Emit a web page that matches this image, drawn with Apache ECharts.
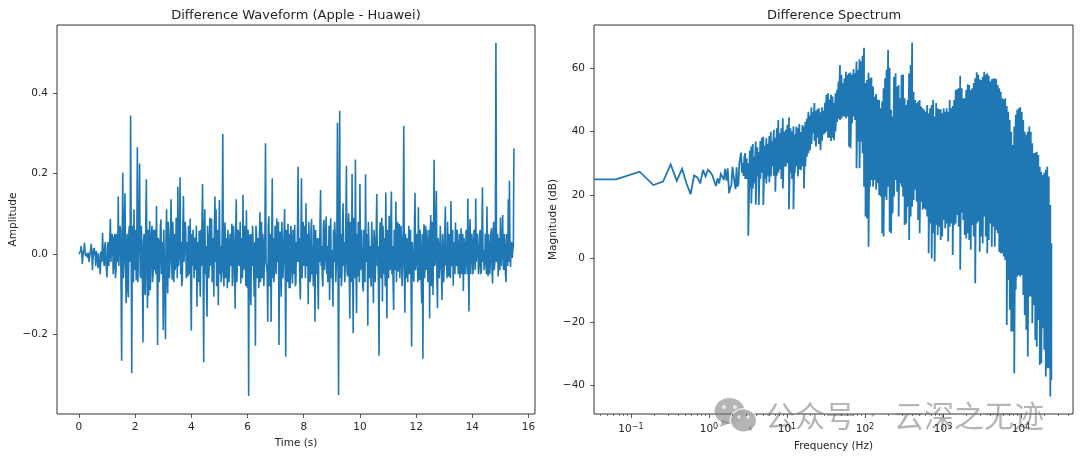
<!DOCTYPE html>
<html><head><meta charset="utf-8">
<style>html,body{margin:0;padding:0;background:#fff}#c{width:1080px;height:459px}</style>
<script src="https://cdn.jsdelivr.net/npm/echarts@6/dist/echarts.min.js"></script>
</head><body><div id="c"></div>
<script>
// Waveform samples, one every 0.04 s
const waveStep = 0.04;
const waveValues = [
0,0,.02,-.025,.005,.028,-.005,0,-.01,-.02,
.002,.025,-.04,.01,.012,-.03,.01,-.035,-.02,-.05,
.01,.053,-.01,.02,-.02,-.058,.03,-.01,.087,-.02,
.04,-.03,.05,-.04,.03,.143,.02,.06,-.265,.202,
-.02,.151,-.122,.05,-.108,.07,.344,-.296,.03,.111,
0,-.066,.265,.02,.225,-.06,.02,-.22,.05,-.102,
.186,-.135,-.104,.082,-.02,.07,-.05,.03,.06,.119,
-.226,.03,-.02,.086,-.03,-.189,.06,-.212,.111,-.098,
.04,-.02,.136,-.064,.02,.05,-.03,.08,.167,-.01,
.191,.03,-.063,.144,-.02,.06,-.01,-.056,.03,.088,
-.19,-.03,.01,.041,-.04,-.131,.02,.058,-.106,-.03,
.174,-.269,.111,.02,-.156,.03,-.02,.064,.088,-.04,
-.106,.143,.111,-.02,-.127,.134,.02,-.05,.298,-.081,
.079,-.02,-.085,.03,-.03,.02,.075,-.066,.03,-.136,
.136,-.02,.05,-.03,-.073,.04,.147,-.03,.04,.109,
-.085,-.353,.049,-.127,-.03,.02,-.106,-.228,.05,-.04,
-.085,.104,-.02,-.06,.03,-.02,.275,-.03,-.168,.094,
-.03,-.168,.188,.04,-.032,.03,.089,-.02,-.226,.056,
-.106,.03,-.02,.112,-.255,.02,.075,-.085,-.085,.041,
-.073,.03,.072,-.073,-.02,.217,.04,-.113,.188,.02,
-.03,.05,.126,-.02,-.125,.03,-.06,.087,.02,.072,
-.168,.01,.039,-.137,-.02,.159,.02,-.081,.085,-.01,
.093,.02,-.04,-.114,.089,.01,-.131,-.02,.047,-.03,
.326,-.35,.356,.05,-.052,.126,.03,-.02,.219,-.056,
.101,-.16,.03,.199,-.197,.04,.235,-.147,-.056,.03,
.174,-.02,.064,-.093,.02,.198,-.02,-.178,.03,.02,
-.081,.078,-.122,.03,-.02,.149,.02,-.253,.079,-.03,
-.118,.02,.04,.153,-.16,.03,.095,-.04,.155,.02,
-.139,.03,.13,.01,-.044,.075,-.02,.03,-.03,.318,
-.146,.02,.039,-.01,-.05,.06,-.23,.03,-.069,.152,
-.02,.03,.116,-.065,.02,-.122,-.26,.074,-.02,-.04,
.03,-.05,-.16,.097,.01,-.102,.234,-.02,.157,-.135,
.02,-.03,.066,-.114,.02,-.02,.118,.01,.08,-.056,
.02,.132,-.03,-.079,.01,.078,-.03,.02,-.02,-.06,
.064,-.01,-.092,.02,-.02,.03,.138,-.143,.087,-.01,
.03,-.02,.04,.138,-.02,.01,-.03,.06,-.044,.166,
.01,-.02,.03,.118,-.055,.02,-.02,.064,-.073,.08,
-.02,.525,-.01,-.056,.03,.091,-.01,.097,-.04,.02,
-.07,.03,.136,.182,-.032,.03,.01,.262];
// Samples that fall halfway between the ones above (the dense core of the trace)
const waveMidValues = [
0,.008,.004,-.006,.012,.004,-.008,.002,.003,-.008,
.012,.002,-.012,.015,-.006,.008,-.015,.002,-.03,.006,
-.02,.01,-.03,.03,-.04,.02,-.03,.04,-.02,.05,
-.05,.04,-.06,.05,-.02,-.03,.07,-.08,.03,-.06,
.08,-.03,.02,-.09,.06,-.02,.04,.07,-.07,-.04,
.06,.03,-.07,.09,-.05,.07,-.06,.03,-.09,.08,
-.03,.06,.03,-.09,.05,-.07,.06,-.04,-.05,-.02,
.04,-.07,.07,-.05,.03,.06,-.09,.05,-.05,.08,
-.06,.05,-.02,.08,-.07,-.04,.09,-.06,-.03,.06,
-.05,-.08,.07,-.02,.08,-.06,.03,.07,-.05,-.08,
.05,.06,-.06,-.02,.07,.03,-.07,-.05,.06,.08,
-.03,.06,-.05,-.08,.07,-.06,.09,-.03,-.07,.04,
.07,-.02,-.08,.06,.03,-.05,-.07,.08,-.04,.05,
-.06,.04,.06,-.07,.05,-.03,-.08,.07,-.02,.06,
-.07,.06,-.03,.08,.02,-.06,-.04,.07,-.08,-.03,
.06,.02,-.08,.05,.07,-.05,.03,.07,-.06,.04,
.03,-.07,.08,.05,-.08,.06,-.02,-.05,.07,-.08,
.05,.02,-.06,-.07,.07,-.05,-.02,.08,.04,-.06,
.08,-.06,.05,-.04,.06,-.07,-.03,.05,.07,-.04,
.06,-.05,-.08,.03,.07,-.02,-.07,.04,-.06,.08,
.07,-.06,-.03,.05,.08,-.07,.06,-.05,-.08,-.02,
.06,-.05,-.07,.04,.08,-.03,-.06,.07,-.04,.06,
-.05,-.07,.07,.03,-.06,-.05,.06,.08,-.07,.05,
-.02,.04,-.06,-.08,.07,-.03,-.07,.09,-.04,.06,
-.05,.08,-.07,-.02,.09,-.06,-.03,.05,.08,-.07,
-.04,.06,-.08,.06,-.07,-.02,.05,.08,-.06,-.05,
.08,-.04,.06,-.07,.06,-.03,-.08,.04,-.06,.09,
.07,-.05,-.08,-.02,.06,-.06,-.03,.08,-.05,-.07,
.06,-.04,-.07,.08,.05,-.06,.07,-.08,.06,-.03,
.05,-.06,-.07,.07,.04,-.08,.03,-.05,.07,-.04,
.05,-.07,-.03,.06,-.07,.05,.02,-.06,.07,.06,
-.07,.06,.04,-.08,.08,.05,-.03,.08,-.06,.04,
-.06,.07,-.05,.05,-.07,.06,-.03,-.06,-.05,.05,
-.06,-.02,.06,.03,-.05,-.02,.06,-.05,.05,.03,
-.05,.05,.04,-.05,.06,-.05,-.03,.05,-.05,.05,
-.05,.06,-.04,-.02,.05,-.05,.05,-.05,.06,-.02,
-.04,.05,-.05,-.02,.05,-.05,.05,-.04,.05,-.04,
.05,-.02,.05,.04,-.04,-.03,.05,-.03,.05,-.05,
.05,-.03,-.02,.02,.02,-.01,.02];

// Low-frequency spectrum: individual bins
const lowFreq = [0.0336,0.0645,.129,.194,.258,.323,.387,.452,.516,.581,.645,.71,.774,.839,.903,.968,1.03,1.1,1.16,1.23,1.29,1.35,1.42,1.48,1.55,1.61,1.68,1.74,1.81,1.87,1.94,2,2.06,2.13,2.19,2.26,2.32,2.39,2.45,2.52,2.58,2.65,2.71,2.77,2.84];
const lowMag = [24.9,24.9,27.3,23.1,24.2,29.6,24.4,28.2,23.6,20.2,26.1,25.5,23.6,27.9,25.8,27.9,27.3,26.3,25.8,22.8,25.2,23.6,26.6,25.8,24.7,28.2,24.5,28.4,20.5,22.1,23.1,28.8,26.3,26.6,21.8,28.7,22.6,23.6,29.9,30.5,33.3,27,30,26,32];

// Dense spectrum: frequency with the top and bottom of the swing read at each frequency
const bandFreq = [2.92,3.05,3.19,3.34,3.49,3.65,3.81,3.98,4.17,4.35,4.55,4.76,4.97,5.20,5.44,5.68,5.94,6.21,6.49,6.78,7.09,7.41,7.75,8.10,8.47,8.85,9.25,9.67,10.1,10.6,11.1,11.6,12.1,12.6,13.2,13.8,14.4,15.1,15.8,16.5,17.2,18.0,18.8,19.7,20.6,21.5,22.5,23.5,24.6,25.7,26.9,28.1,29.4,30.7,32.1,33.6,35.1,36.7,38.4,40.1,41.9,43.8,45.8,47.8,
50,52.3,54.6,57.1,59.7,62.4,65.2,68.2,71.3,74.5,
77.9,81.4,85.1,88.9,93,97.2,101.6,106,111,116,
121,127,133,139,145,152,159,166,173,181,
189,198,207,216,226,236,247,258,270,282,
295,308,322,337,352,368,385,402,420,439,
459,480,502,525,549,574,600,627,655,685,
716,748,782,818,855,894,934,976,1020,1067,
1115,1166,1219,1274,1332,1392,1455,1521,1590,1662,
1737,1816,1898,1984,2074,2168,2266,2369,2476,2588,
2706,2828,2956,3090,3230,3377,3530,3690,3857,4032,
4215,4406,4605,4814,5032,5260,5499,5748,6008,6281,
6565,6863,7174,7499,7839,8194,8565,8953,9359,9783,
10226,10690,11174,11680,12209,12763,13341,13945,14577,15238,
15928,16650,17404,18193,19017,19879,20779,21720,22700,23730,24500];
const bandUpper = [33.1,31.5,30,34,35.2,36,32,36.8,35,33.5,37,38,38.3,35.5,37.8,36,38.5,39.9,37,40.5,38,41,43.6,39.4,41,44.1,40,40.5,42,44.4,41,40,41.5,39,41.5,41,42.3,39.8,42,41.5,43,44,46.2,45,47.6,46,48.9,46.5,47,47.3,46,47.6,46.5,49,51.5,52,50,51.5,51,49,52,53,55.7,60.9,
57.8,55.2,56.7,58.8,57.8,58.3,58.5,57.8,59.6,58.3,
62,59.4,62.7,62,63.8,66.3,55.2,56.2,58.5,56.7,
57,54.1,51,51.8,50,49.9,47.3,49.4,53.6,56.7,
59.4,65.6,60,46.8,44.7,57.2,58.3,54.1,54.6,50.4,
57.8,57.8,50.4,48.3,49.9,58.3,60.9,68,52.5,49.9,
48.9,49.4,49.9,47.8,47.3,46.8,46.2,48.3,45.7,47.3,
48.3,49.9,44.7,48.9,47.3,47,47,45.7,47.3,46.2,
47.3,46.2,49.9,47.3,48,49.9,53,53.3,53.6,57.5,
53.6,50.4,50.4,53,54.8,54.6,53,53.6,55.2,56.7,
58.6,57.8,56.4,56.2,57.2,58.8,57.8,58.3,57.5,55.7,
56.4,56.6,56.7,56.4,54.6,53.6,52.5,50.4,50.1,50.4,
48,46.2,43.6,39.9,35.7,41.5,45.2,46.8,47.3,47.6,
46.2,43.6,39.9,38.9,39.9,41.5,39.9,36.3,33.1,33.3,
33.6,32.6,28.9,27.3,26.3,27,27.9,28.9,25.8,16.8,4.8];
const bandLower = [25,25,7.1,22,17.3,22,23.6,17,26,16.8,25,27,16.8,25,23.6,26,24,25.8,29,26,21,26,27,28,25,22,29,28.9,30,15.5,27,25,15.5,27,29,25.8,28,27.8,29,22,29,32,33.1,34,36,39.4,37,35.2,38,36,34.1,37,39,39.4,40,38,38,37,38,37.2,40,43,44,43.6,
44.1,44.7,44.7,44.1,44.7,35.2,34.7,42.6,44.7,43.6,
28.4,36.8,28.4,36.8,33.1,22.6,13.2,12.6,3.7,22.6,
24.7,22.6,24.7,21.6,23.7,20,19.5,7.9,6.9,19.5,
18.4,22.6,8.4,7.9,14.2,19.5,24.7,21,13.2,23.7,
22.6,19.5,10.5,11,16.3,5.8,13.2,16.3,18.4,21.6,
17.9,12.1,7.9,17.9,15.3,15.8,15.3,13.2,1.6,11,
0,7.9,-1,10.5,7.4,10,5.8,6.9,12.1,9.5,
11,5.3,10,11,1.1,10.5,11,13.7,10,-3.6,
14.4,12.1,7.4,6.3,7.9,5.8,2.7,10.5,6.9,-7.8,
11,11.6,2.1,6.9,4.8,13.2,6.9,1.6,5.8,11,
3.7,10,3.7,9,7.9,2.1,1.6,1.6,.6,-.5,
-21,-6.8,-16.2,-23,-23,-36.2,-9.9,-5.7,-5.2,-5.7,
-5.2,-11.5,-17.8,-22.5,-30.9,-12,-12,-20.4,-14.7,-25.7,
-27.8,-19.4,-33.6,-33,-22,-28.8,-37.2,-34.6,-34.6,-43.5,-38.3];

// Tick labels
const waveXTicks = [0,2,4,6,8,10,12,14,16];
const waveYTicks = [-0.2,0,0.2,0.4];
const specXTicks = [0.1,1,10,100,1000,10000];
const specXMinor = [.04,.05,.06,.07,.08,.09,.2,.3,.4,.5,.6,.7,.8,.9,2,3,4,5,6,7,8,9,20,30,40,50,60,70,80,90,200,300,400,500,600,700,800,900,2000,3000,4000,5000,6000,7000,8000,9000,20000,30000,40000];
const specYTicks = [-40,-20,0,20,40,60];
const specXExp = {0.1:'\u22121',1:'0',10:'1',100:'2',1000:'3',10000:'4'};

const waveData = [];
waveValues.forEach((v,i)=>{
  const t=i*waveStep;
  waveData.push([+t.toFixed(2),v]);
  if(i<waveMidValues.length){waveData.push([+(t+waveStep/2).toFixed(2),waveMidValues[i]]);}
});
const specData = lowFreq.map((f,i)=>[f,lowMag[i]]);
bandFreq.forEach((f,i)=>{specData.push([f,bandUpper[i]],[f,bandLower[i]]);});
for(let i=bandFreq.length-1;i>=0;i--){specData.push([bandFreq[i],bandLower[i]],[bandFreq[i],bandUpper[i]]);}

const FONT='"DejaVu Sans"', INK='#262626', BLUE='#1f77b4', SPINE='#333';
const tickStyle={show:true,length:4,inside:false,lineStyle:{color:SPINE,width:0.8}};
const labelBase={color:INK,fontFamily:FONT,fontSize:10.5,margin:9};
const nameBase={color:INK,fontFamily:FONT,fontSize:10.5};
const frame={show:true,borderColor:SPINE,borderWidth:1,backgroundColor:'#fff'};
const noLine={show:false,onZero:false};
const WM='rgba(120,120,120,0.55)';
const WMHOLE='rgba(255,255,255,0.7)';

const chart=echarts.init(document.getElementById('c'),null,{renderer:'canvas'});
chart.setOption({
  animation:false,backgroundColor:'#fff',
  title:[
    {text:'Difference Waveform (Apple - Huawei)',left:291,top:4,textAlign:'center',textStyle:{color:INK,fontFamily:FONT,fontSize:13,fontWeight:'normal'}},
    {text:'Difference Spectrum',left:829,top:4,textAlign:'center',textStyle:{color:INK,fontFamily:FONT,fontSize:13,fontWeight:'normal'}}
  ],
  grid:[
    Object.assign({left:57,top:25,width:478,height:389},frame),
    Object.assign({left:594,top:25,width:479,height:389},frame)
  ],
  xAxis:[
    {type:'value',gridIndex:0,position:'bottom',min:-0.78,max:16.23,splitLine:{show:false},
     axisLine:noLine,
     axisTick:Object.assign({},tickStyle,{customValues:waveXTicks}),
     axisLabel:Object.assign({},labelBase,{customValues:waveXTicks,margin:8,formatter:v=>String(v)}),
     name:'Time (s)',nameLocation:'middle',nameGap:22,nameTextStyle:nameBase},
    {type:'log',gridIndex:1,position:'bottom',logBase:10,min:0.0336,max:46400,splitLine:{show:false},minorTick:{show:false},
     axisLine:noLine,
     axisTick:Object.assign({},tickStyle,{customValues:specXTicks}),
     axisLabel:Object.assign({},labelBase,{customValues:specXTicks,margin:9,
       formatter:v=>{const k=specXExp[+(+v).toPrecision(3)];return '10{s|'+k+'}';},
       rich:{s:{fontFamily:FONT,fontSize:8,color:INK,verticalAlign:'top',padding:[0,0,5,0]}}}),
     name:'Frequency (Hz)',nameLocation:'middle',nameGap:27,nameTextStyle:nameBase},
    {type:'log',gridIndex:1,position:'bottom',logBase:10,min:0.0336,max:46400,splitLine:{show:false},minorTick:{show:false},
     axisLine:noLine,
     axisTick:Object.assign({},tickStyle,{length:2,lineStyle:{color:SPINE,width:0.6},customValues:specXMinor}),
     axisLabel:{show:false}}
  ],
  yAxis:[
    {type:'value',gridIndex:0,position:'left',min:-0.3975,max:0.569,splitLine:{show:false},
     axisLine:noLine,
     axisTick:Object.assign({},tickStyle,{customValues:waveYTicks}),
     axisLabel:Object.assign({},labelBase,{customValues:waveYTicks,formatter:v=>{const n=+v;return (n<0?'\u2212':'')+Math.abs(n).toFixed(1);}}),
     name:'Amplitude',nameLocation:'middle',nameGap:38,nameTextStyle:nameBase},
    {type:'value',gridIndex:1,position:'left',min:-49,max:73.5,splitLine:{show:false},
     axisLine:noLine,
     axisTick:Object.assign({},tickStyle,{customValues:specYTicks}),
     axisLabel:Object.assign({},labelBase,{customValues:specYTicks,formatter:v=>{const n=+v;return (n<0?'\u2212':'')+Math.abs(n);}}),
     name:'Magnitude (dB)',nameLocation:'middle',nameGap:32,nameTextStyle:nameBase}
  ],
  series:[
    {type:'line',xAxisIndex:0,yAxisIndex:0,data:waveData,showSymbol:false,symbol:'none',smooth:false,sampling:false,clip:true,lineStyle:{color:BLUE,width:1.6,join:'miter',miterLimit:3}},
    {type:'line',xAxisIndex:1,yAxisIndex:1,data:specData,showSymbol:false,symbol:'none',smooth:false,sampling:false,clip:true,lineStyle:{color:BLUE,width:1.8,join:'miter',miterLimit:3}}
  ],
  graphic:[
    {type:'group',silent:true,z:100,children:[
      {type:'ellipse',shape:{cx:729.5,cy:411,rx:15,ry:13},style:{fill:WM}},
      {type:'polygon',shape:{points:[[722,420],[720,427],[730,423]]},style:{fill:WM}},
      {type:'circle',shape:{cx:724,cy:407,r:2},style:{fill:WMHOLE}},
      {type:'circle',shape:{cx:735,cy:407,r:2},style:{fill:WMHOLE}},
      {type:'ellipse',shape:{cx:743.5,cy:420.5,rx:14,ry:12.5},style:{fill:WMHOLE}},
      {type:'ellipse',shape:{cx:743.5,cy:420.5,rx:12.5,ry:11},style:{fill:WM}},
      {type:'polygon',shape:{points:[[748,429],[752,431],[751,425]]},style:{fill:WM}},
      {type:'circle',shape:{cx:739,cy:417,r:1.7},style:{fill:WMHOLE}},
      {type:'circle',shape:{cx:748,cy:417,r:1.7},style:{fill:WMHOLE}},
      {type:'text',x:765,y:416,style:{text:'\u516c\u4f17\u53f7',fill:WM,fontFamily:'"Noto Sans CJK SC"',fontSize:30,verticalAlign:'middle',align:'left'}},
      {type:'circle',shape:{cx:873,cy:415,r:1.6},style:{fill:WM}},
      {type:'text',x:894,y:416,style:{text:'\u4e91\u6df1\u4e4b\u65e0\u8ff9',fill:WM,fontFamily:'"Noto Sans CJK SC"',fontSize:30,verticalAlign:'middle',align:'left'}}
    ]}
  ]
});
</script></body></html>
